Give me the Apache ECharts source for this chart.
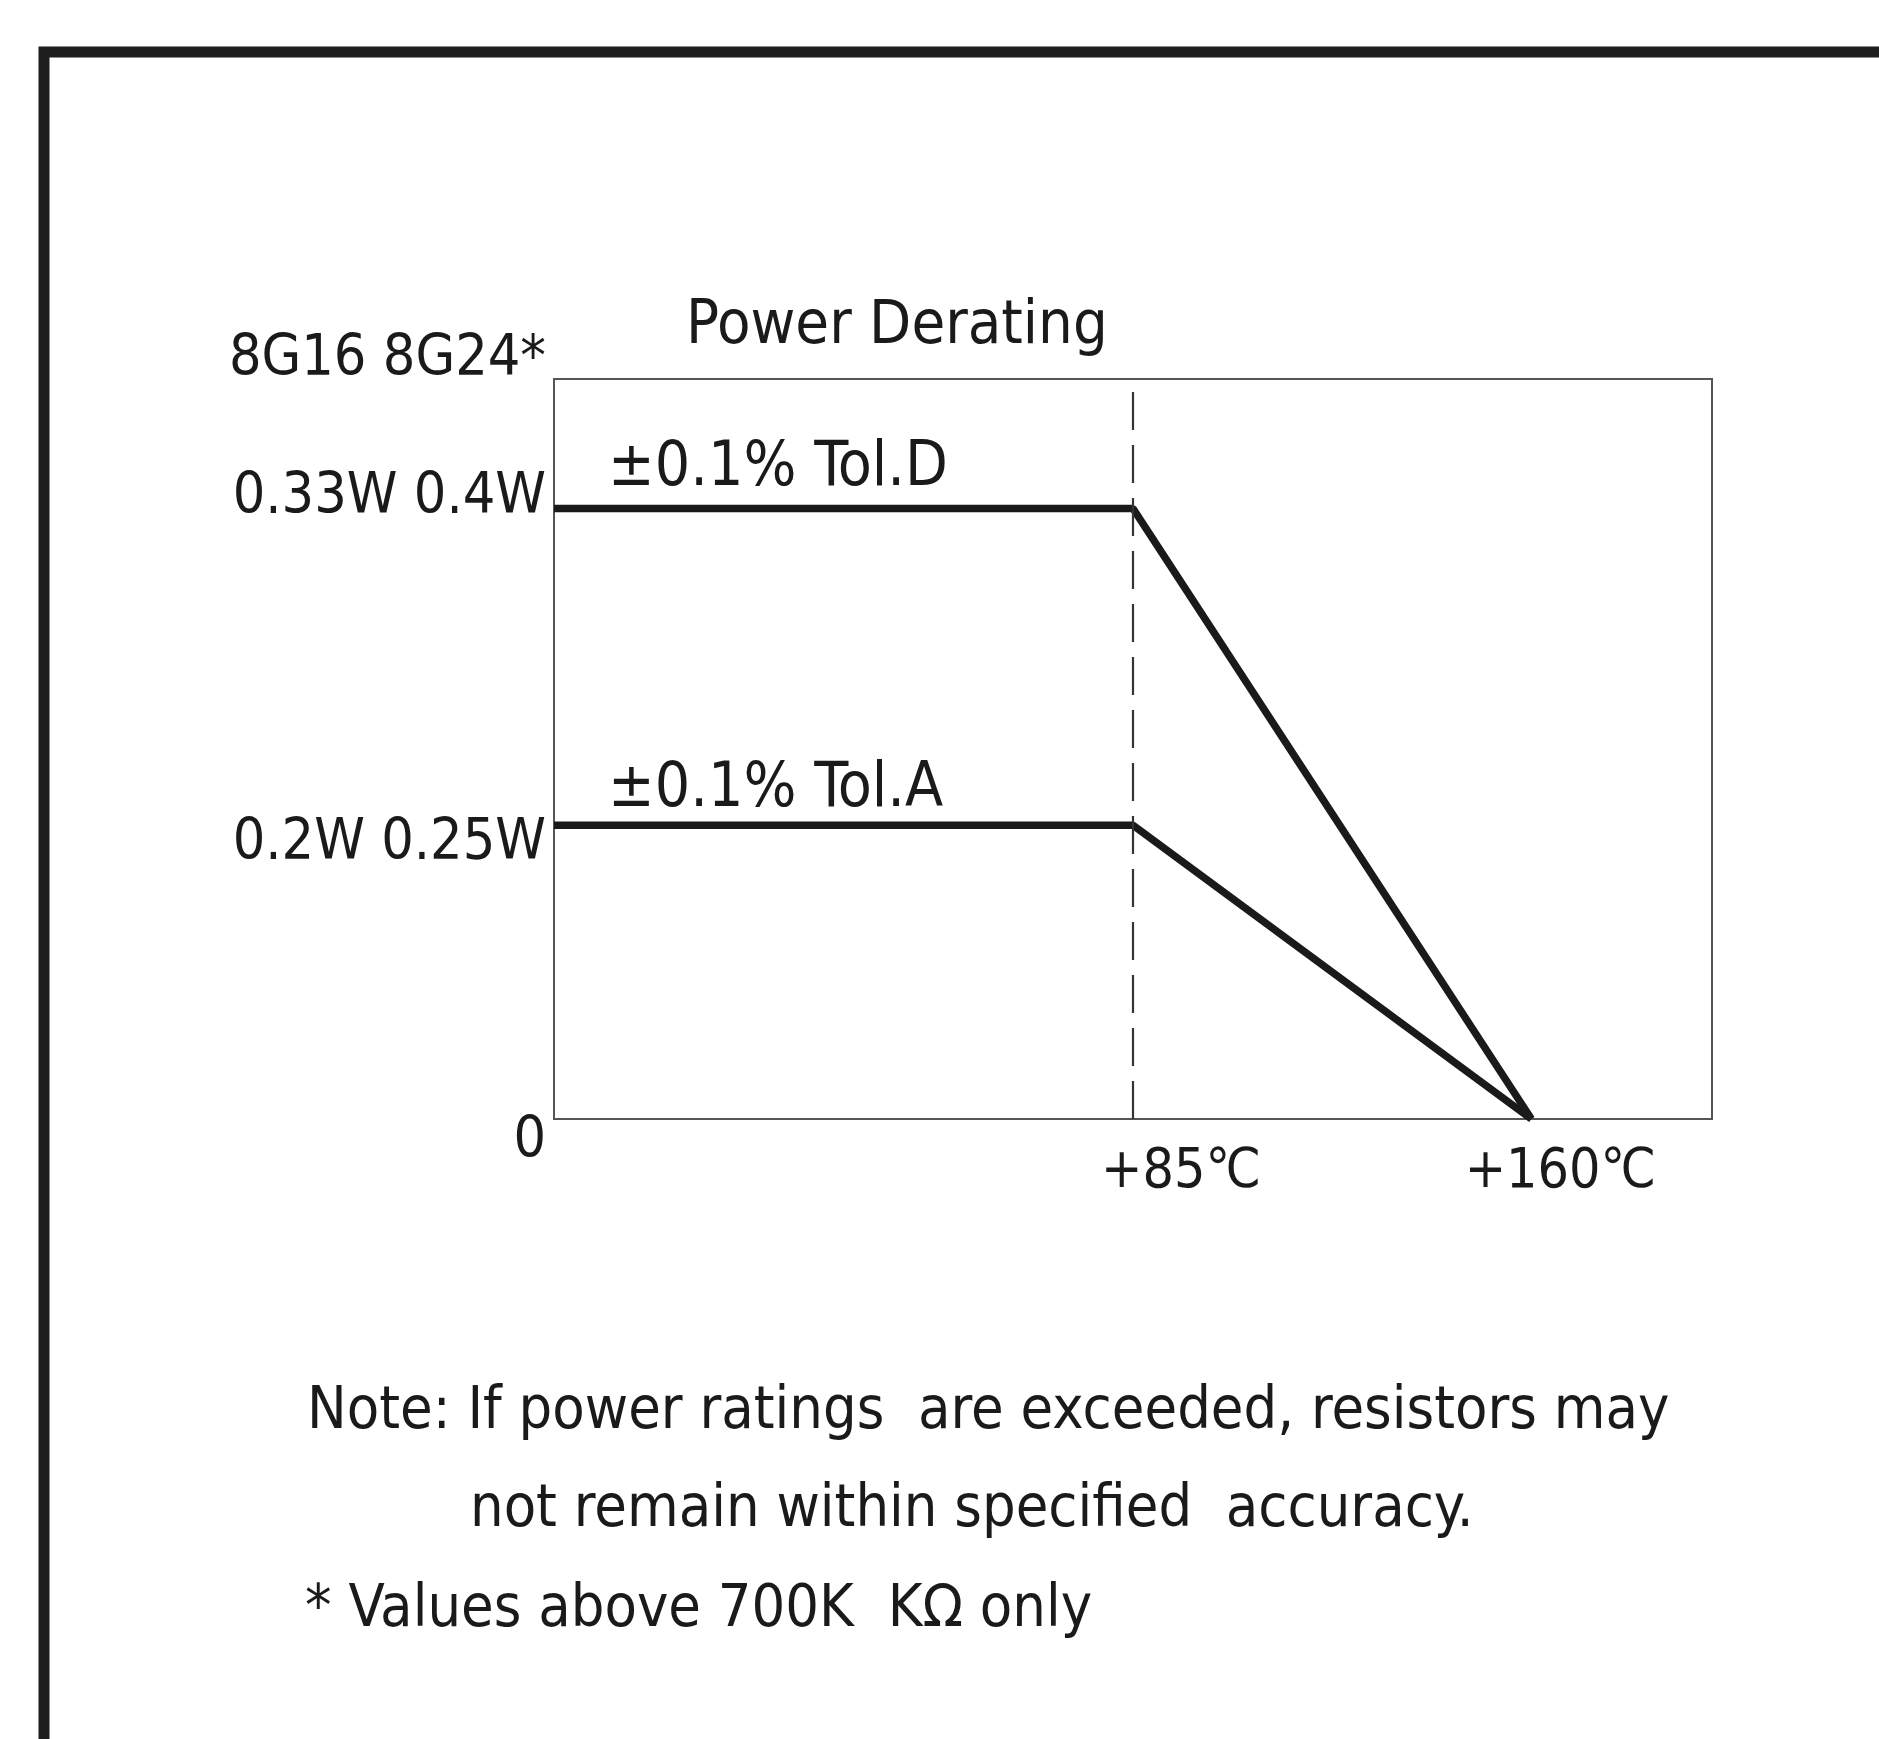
<!DOCTYPE html>
<html>
<head>
<meta charset="utf-8">
<script src="https://cdn.jsdelivr.net/npm/echarts@6/dist/echarts.min.js"></script>
<style>
  html, body { margin: 0; padding: 0; background: #fff; }
  #chart { width: 1879px; height: 1739px; }
</style>
</head>
<body>
<div id="chart"></div>
<script>
// 数据（示意图，纵向位置按图读取）
const tempTicks = [85, 160];
const tempLabels = ['+85℃', '+160℃'];
const powerLevels = [0, 0.397, 0.825];
const powerLabels = ['0', '0.2W 0.25W', '0.33W 0.4W'];
const tolD = [[-24, 0.825], [85, 0.825], [160, 0]];
const tolA = [[-24, 0.397], [85, 0.397], [160, 0]];
const seriesNames = ['±0.1% Tol.D', '±0.1% Tol.A'];
const deratingMark = [[85, 0], [85, 0.992]];
const noteLines = [
  'Note: If power ratings  are exceeded, resistors may',
  'not remain within specified  accuracy.',
  '* Values above 700K  KΩ only'
];

const FONT = '"DejaVu Sans Condensed", "DejaVu Sans", sans-serif';
const INK = '#1a1a1a';

const chart = echarts.init(document.getElementById('chart'));

// 只在第一个点上挂标签
function firstLabel(points, name, dy) {
  return points.map((p, i) => i === 0
    ? { value: p, label: { show: true, formatter: name, position: 'right', distance: 0, offset: [54, dy],
        fontFamily: FONT, fontSize: 62, color: INK } }
    : p);
}

function txt(size) {
  return { fontFamily: FONT, fontSize: size, fontWeight: 'normal', color: INK, lineHeight: size };
}

const option = {
  backgroundColor: '#fff',
  animation: false,
  title: [
    { text: '8G16 8G24*', right: 1879 - 551, top: 356 - 29, textStyle: txt(57) },
    { text: 'Power Derating', left: 681, top: 292, textStyle: txt(61) },
    { text: noteLines[0], left: 302, top: 1378, textStyle: txt(59) },
    { text: noteLines[1], left: 465, top: 1476, textStyle: txt(59) },
    { text: noteLines[2], left: 300, top: 1576, textStyle: txt(59) }
  ],
  graphic: [
    { type: 'rect', shape: { x: 44, y: 52, width: 2200, height: 2200 },
      style: { fill: null, stroke: '#1e1e1e', lineWidth: 11 }, silent: true }
  ],
  grid: { left: 554, top: 379, width: 1158, height: 740, show: true,
    borderColor: '#555', borderWidth: 2, backgroundColor: 'transparent' },
  xAxis: {
    type: 'value', min: -24, max: 194,
    axisLine: { show: false }, axisTick: { show: false }, splitLine: { show: false },
    axisLabel: {
      customValues: tempTicks, margin: 26, color: INK, fontFamily: FONT, fontSize: 55,
      formatter: v => {
        const i = tempTicks.indexOf(v);
        return i === 0 ? '{a|' + tempLabels[0] + '}' : '{b|' + tempLabels[1] + '}';
      },
      rich: {
        a: { fontFamily: FONT, fontSize: 55, color: INK, padding: [0, 0, 0, 96] },
        b: { fontFamily: FONT, fontSize: 55, color: INK, padding: [0, 0, 0, 58] }
      }
    }
  },
  yAxis: {
    type: 'value', min: 0, max: 1,
    axisLine: { show: false }, axisTick: { show: false }, splitLine: { show: false },
    axisLabel: {
      customValues: powerLevels, margin: 8, color: INK, fontFamily: FONT, fontSize: 57,
      formatter: v => {
        const i = powerLevels.indexOf(v);
        return ['{z|', '{m|', '{t|'][i] + powerLabels[i] + '}';
      },
      rich: {
        z: { fontFamily: FONT, fontSize: 57, color: INK, padding: [46, 0, 0, 0] },
        m: { fontFamily: FONT, fontSize: 57, color: INK, padding: [38, 0, 0, 0] },
        t: { fontFamily: FONT, fontSize: 57, color: INK, padding: [0, 0, 20, 0] }
      }
    }
  },
  series: [
    {
      name: seriesNames[0], type: 'line', data: firstLabel(tolD, seriesNames[0], -40),
      showSymbol: true, symbol: 'circle', symbolSize: 0, clip: false,
      lineStyle: { color: INK, width: 7.5 }, itemStyle: { color: INK },
      markLine: {
        silent: true, symbol: 'none', label: { show: false },
        lineStyle: { color: '#333', width: 2.2, type: [38, 15] },
        data: [[{ coord: deratingMark[0] }, { coord: deratingMark[1] }]]
      }
    },
    {
      name: seriesNames[1], type: 'line', data: firstLabel(tolA, seriesNames[1], -35),
      showSymbol: true, symbol: 'circle', symbolSize: 0, clip: false,
      lineStyle: { color: INK, width: 7.5 }, itemStyle: { color: INK }
    }
  ]
};

chart.setOption(option);
</script>
</body>
</html>
